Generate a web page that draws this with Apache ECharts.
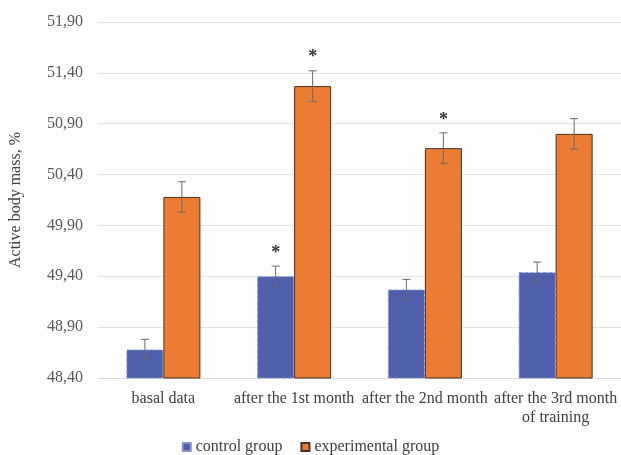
<!DOCTYPE html>
<html>
<head>
<meta charset="utf-8">
<script src="https://cdn.jsdelivr.net/npm/echarts@6/dist/echarts.min.js"></script>
<style>html,body{margin:0;padding:0;background:#fdfdfc;}#c{width:621px;height:455px;}</style>
</head>
<body>
<div id="c"></div>
<script>
var categories = ['basal data', 'after the 1st month', 'after the 2nd month', 'after the 3rd month\nof training'];
var seriesNames = ['control group', 'experimental group'];
var controlValues = [48.68, 49.40, 49.27, 49.44];
var experimentalValues = [50.18, 51.27, 50.66, 50.80];
var controlErrors = [0.10, 0.10, 0.10, 0.10];
var experimentalErrors = [0.15, 0.15, 0.15, 0.15];
var controlStars = [0, 1, 0, 0];
var experimentalStars = [0, 1, 1, 0];
var yTicks = { min: 48.4, max: 51.9, interval: 0.5 };

var serif = '"Liberation Serif", "Times New Roman", serif';
var BAR_W = 37;

function errData(vals, errs, stars) {
  return vals.map(function (v, i) { return [i, v, errs[i], stars[i]]; });
}
function errRender(offset) {
  return function (params, api) {
    var i = api.value(0), v = api.value(1), e = api.value(2), s = api.value(3);
    var c = api.coord([i, v]);
    var x = c[0] + offset;
    var top = api.coord([i, v + e])[1];
    var bot = api.coord([i, v - e])[1];
    var st = { stroke: '#6b6b6b', lineWidth: 1 };
    var children = [
      { type: 'line', shape: { x1: x, y1: top, x2: x, y2: bot }, style: st },
      { type: 'line', shape: { x1: x - 4, y1: top, x2: x + 4, y2: top }, style: st },
      { type: 'line', shape: { x1: x - 4, y1: bot, x2: x + 4, y2: bot }, style: st }
    ];
    if (s) {
      children.push({ type: 'text', style: { text: '*', x: x, y: top - 4, textAlign: 'center', textVerticalAlign: 'bottom', font: 'bold 18px ' + serif, fill: '#333' } });
    }
    return { type: 'group', children: children };
  };
}

var chart = echarts.init(document.getElementById('c'), null, { renderer: 'canvas' });
chart.setOption({
  backgroundColor: '#fdfdfc',
  animation: false,
  grid: { left: 98, right: -4, top: 22, bottom: 77, containLabel: false },
  legend: {
    data: seriesNames,
    top: 434,
    left: 'center',
    itemWidth: 8, itemHeight: 8, itemGap: 18,
    icon: 'rect',
    textStyle: { fontFamily: serif, fontSize: 16, color: '#404040' }
  },
  xAxis: {
    type: 'category',
    data: categories,
    axisTick: { show: false },
    axisLine: { lineStyle: { color: '#d9d9d9' } },
    axisLabel: { fontFamily: serif, fontSize: 16, color: '#404040', margin: 11, lineHeight: 19, interval: 0 }
  },
  yAxis: {
    type: 'value',
    min: yTicks.min, max: yTicks.max, interval: yTicks.interval,
    name: 'Active body mass, %',
    nameLocation: 'middle',
    nameGap: 74,
    nameTextStyle: { fontFamily: serif, fontSize: 16, color: '#404040' },
    axisLine: { show: false },
    axisTick: { show: false },
    splitLine: { lineStyle: { color: '#e3e3e3' } },
    axisLabel: {
      fontFamily: serif, fontSize: 16, color: '#595959', margin: 15,
      formatter: function (v) { return v.toFixed(2).replace('.', ','); }
    }
  },
  series: [
    { name: seriesNames[0], type: 'bar', data: controlValues, barWidth: BAR_W, barGap: '0%',
      itemStyle: { color: '#4f5fab', borderColor: '#8792c9', borderWidth: 1, borderType: 'dashed' } },
    { name: seriesNames[1], type: 'bar', data: experimentalValues, barWidth: BAR_W, barGap: '0%',
      itemStyle: { color: '#ec7b34', borderColor: '#4a3222', borderWidth: 1 } },
    { name: 'errC', type: 'custom', data: errData(controlValues, controlErrors, controlStars),
      encode: { x: 0, y: 1 }, renderItem: errRender(-BAR_W / 2), z: 5 },
    { name: 'errE', type: 'custom', data: errData(experimentalValues, experimentalErrors, experimentalStars),
      encode: { x: 0, y: 1 }, renderItem: errRender(BAR_W / 2), z: 5 }
  ]
});
</script>
</body>
</html>
